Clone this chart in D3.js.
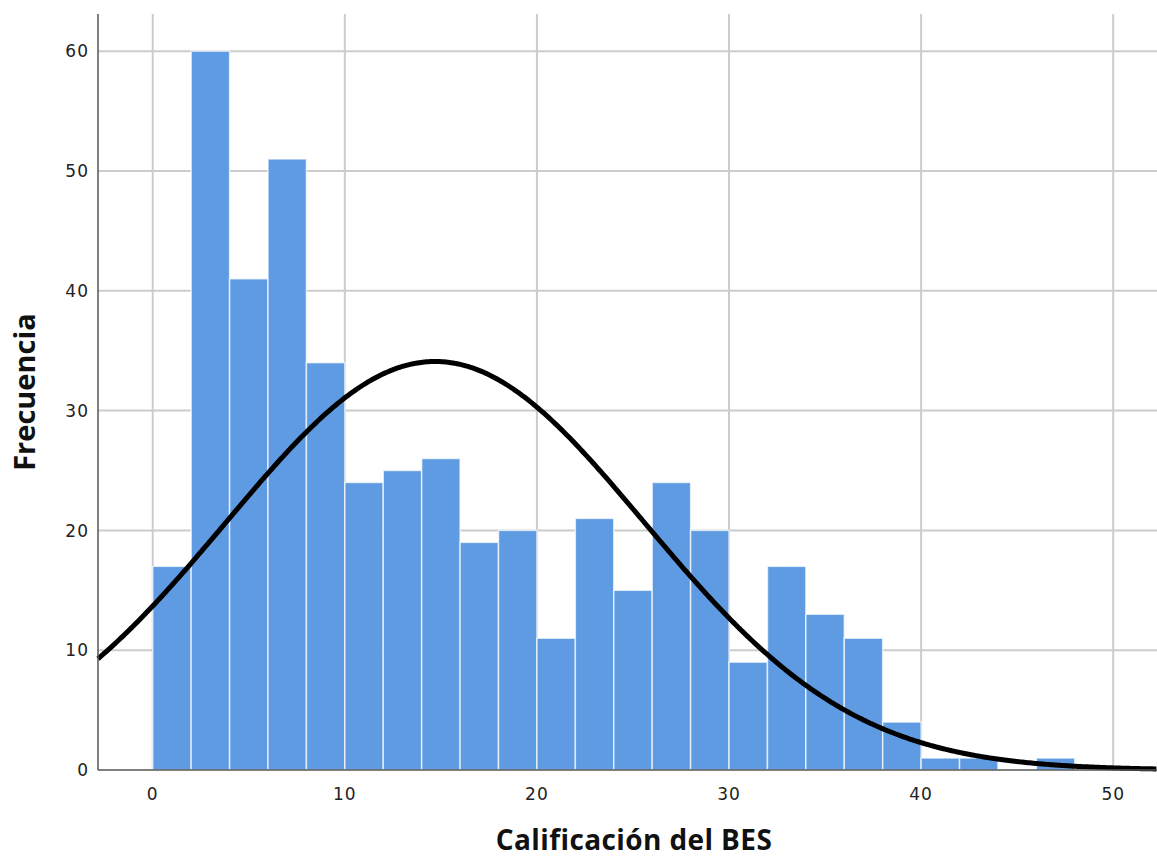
<!DOCTYPE html>
<html>
<head>
<meta charset="utf-8">
<script src="https://cdn.jsdelivr.net/npm/d3@7"></script>
<style>
  body { margin: 0; background: #fff; }
  svg { display: block; }
</style>
</head>
<body>
<div id="chart"></div>
<script>
// Histogram bins (lower edge) and frequencies, bin width 2.
const binStarts = [0, 2, 4, 6, 8, 10, 12, 14, 16, 18, 20, 22, 24, 26, 28, 30, 32, 34, 36, 38, 40, 42, 44, 46];
const counts = [17, 60, 41, 51, 34, 24, 25, 26, 19, 20, 11, 21, 15, 24, 20, 9, 17, 13, 11, 4, 1, 1, 0, 1];
const binWidth = 2;

// Fitted normal curve parameters.
const meanVal = 14.7;
const sdVal = 10.88;
const nObs = 465;

const xTicks = [0, 10, 20, 30, 40, 50];
const yTicks = [0, 10, 20, 30, 40, 50, 60];

{ // limit scope...
const width = 1157,
      height = 859;
const left = 98, right = 1157, top = 14, bottom = 770;

const svg = d3.select("#chart").append("svg")
    .attr("width", width)
    .attr("height", height);

const x = d3.scaleLinear([-2.85, 52.28], [left, right]);
const y = d3.scaleLinear([0, 63.1], [bottom, top]);

// Grid lines.
svg.append("g")
    .selectAll("line")
    .data(yTicks.slice(1))
    .join("line")
        .attr("x1", left).attr("x2", right)
        .attr("y1", d => y(d)).attr("y2", d => y(d))
        .attr("stroke", "#cccccc")
        .attr("stroke-width", 2);

svg.append("g")
    .selectAll("line")
    .data(xTicks)
    .join("line")
        .attr("x1", d => x(d)).attr("x2", d => x(d))
        .attr("y1", top).attr("y2", bottom)
        .attr("stroke", "#cccccc")
        .attr("stroke-width", 2);

// Bars.
svg.append("g")
    .selectAll("rect")
    .data(binStarts.map((d, i) => ({start: d, count: counts[i]})).filter(d => d.count > 0))
    .join("rect")
        .attr("x", d => x(d.start))
        .attr("width", d => x(d.start + binWidth) - x(d.start))
        .attr("y", d => y(d.count))
        .attr("height", d => y(0) - y(d.count))
        .attr("fill", "#5f9be2")
        .attr("stroke", "#ffffff")
        .attr("stroke-opacity", 0.7)
        .attr("stroke-width", 1.5);

// Normal curve.
const pdf = v => nObs * binWidth / (sdVal * Math.sqrt(2 * Math.PI)) *
    Math.exp(-0.5 * Math.pow((v - meanVal) / sdVal, 2));
const curveX = d3.range(-2.85, 52.3, 0.1);
svg.append("path")
    .datum(curveX)
    .attr("fill", "none")
    .attr("stroke", "#000")
    .attr("stroke-width", 5)
    .attr("d", d3.line().x(d => x(d)).y(d => y(pdf(d))).curve(d3.curveBasis));

// Axis lines.
svg.append("line")
    .attr("x1", left).attr("x2", left)
    .attr("y1", top).attr("y2", bottom)
    .attr("stroke", "#555").attr("stroke-width", 1.5);
svg.append("line")
    .attr("x1", left).attr("x2", right)
    .attr("y1", bottom).attr("y2", bottom)
    .attr("stroke", "#555").attr("stroke-width", 1.5);

// Tick labels.
svg.append("g")
    .selectAll("text")
    .data(yTicks)
    .join("text")
        .attr("x", left - 9)
        .attr("y", d => y(d))
        .attr("dy", "0.36em")
        .attr("text-anchor", "end")
        .attr("font-family", "DejaVu Sans")
        .attr("font-size", 17)
        .attr("letter-spacing", 1)
        .attr("fill", "#222")
        .text(d => d);

svg.append("g")
    .selectAll("text")
    .data(xTicks)
    .join("text")
        .attr("x", d => x(d))
        .attr("y", 800)
        .attr("text-anchor", "middle")
        .attr("font-family", "DejaVu Sans")
        .attr("font-size", 17)
        .attr("letter-spacing", 1)
        .attr("fill", "#222")
        .text(d => d);

// Axis titles.
svg.append("text")
    .attr("x", 634)
    .attr("y", 850)
    .attr("text-anchor", "middle")
    .attr("font-family", "Open Sans")
    .attr("font-weight", "bold")
    .attr("font-size", 28)
    .attr("letter-spacing", 0.4)
    .attr("fill", "#111")
    .text("Calificación del BES");

svg.append("text")
    .attr("transform", "translate(35,392) rotate(-90)")
    .attr("text-anchor", "middle")
    .attr("font-family", "Open Sans")
    .attr("font-weight", "bold")
    .attr("font-size", 29)
    .attr("fill", "#111")
    .text("Frecuencia");
}
</script>
</body>
</html>
